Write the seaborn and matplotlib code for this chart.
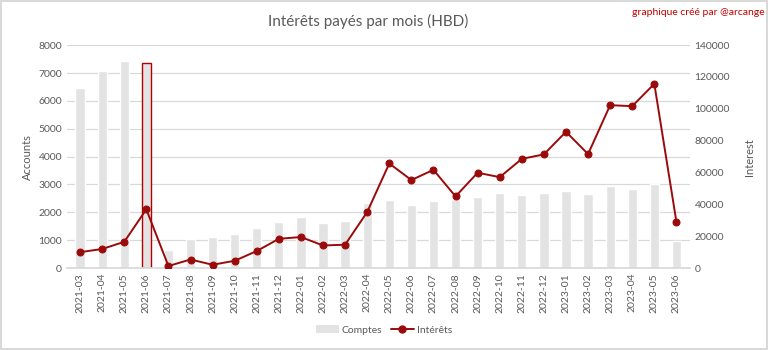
import matplotlib
matplotlib.use("Agg")

import numpy as np
import pandas as pd
import matplotlib.pyplot as plt
import seaborn as sns
from matplotlib.lines import Line2D
from matplotlib.patches import Patch

months = [
    "2021-03", "2021-04", "2021-05", "2021-06", "2021-07", "2021-08", "2021-09",
    "2021-10", "2021-11", "2021-12", "2022-01", "2022-02", "2022-03", "2022-04",
    "2022-05", "2022-06", "2022-07", "2022-08", "2022-09", "2022-10", "2022-11",
    "2022-12", "2023-01", "2023-02", "2023-03", "2023-04", "2023-05", "2023-06",
]
accounts = [
    6460, 7070, 7440, 7360, 650, 1040, 1110, 1220, 1450, 1650, 1840, 1610, 1680, 2340,
    2440, 2250, 2400, 2480, 2560, 2680, 2620, 2680, 2770, 2650, 2940, 2830, 3000, 980,
]
interest = [
    10000, 12000, 16500, 36900, 1300, 5400, 2100, 4600, 10700, 18400, 19500, 14200, 14700, 35200,
    65700, 55300, 61700, 45000, 59900, 57100, 68600, 71400, 85600, 71600, 102300, 101700, 115700, 29100,
]
highlight = "2021-06"

BAR = "#e3e3e3"
RED = "#9b0a0a"
GRAY = "#595959"
GRID = "#d9d9d9"

sns.set_theme(style="white")
plt.rcParams["font.family"] = ["Lato", "DejaVu Sans"]

df = pd.DataFrame({"month": months, "accounts": accounts, "interest": interest})

fig = plt.figure(figsize=(7.68, 3.5), dpi=100)
fig.patch.set_edgecolor("#d9d9d9")
fig.patch.set_linewidth(1.5)
ax = fig.add_axes([0.087, 0.234, 0.811, 0.637])

sns.barplot(data=df, x="month", y="accounts", color=BAR, saturation=1, width=0.42, ax=ax, zorder=2)
for patch, m in zip(ax.patches, months):
    if m == highlight:
        patch.set_edgecolor("#b00000")
        patch.set_linewidth(1.0)

ax2 = ax.twinx()
sns.lineplot(x=np.arange(len(months)), y=df["interest"], color=RED, linewidth=1.4,
             marker="o", markersize=5, markeredgecolor=RED, ax=ax2, zorder=3)

ax.set_ylim(0, 8000)
ax.set_yticks(range(0, 8001, 1000))
ax2.set_ylim(0, 140000)
ax2.set_yticks(range(0, 140001, 20000))
ax.set_xlim(-0.6, len(months) - 0.4)

ax.yaxis.grid(True, color=GRID, linewidth=0.9, zorder=0)
ax.set_axisbelow(True)
for a in (ax, ax2):
    for s in a.spines.values():
        s.set_visible(False)
    a.tick_params(length=0, colors=GRAY, labelsize=7.5)
ax.spines["bottom"].set_visible(True)
ax.spines["bottom"].set_color(GRID)

ax.set_xlabel("")
ax.set_xticks(range(len(months)))
ax.set_xticklabels(months, rotation=90, fontsize=7.5, color=GRAY)
ax.set_ylabel("Accounts", color=GRAY, fontsize=8)
ax2.set_ylabel("Interest", color=GRAY, fontsize=8, labelpad=10)

fig.text(0.48, 0.94, "Intérêts payés par mois (HBD)", ha="center", va="center",
         fontsize=11, color=GRAY)
fig.text(0.995, 0.965, "graphique créé par @arcange", ha="right", va="center",
         fontsize=7.5, color="#c00000")

handles = [
    Patch(facecolor=BAR, edgecolor="none"),
    Line2D([0], [0], color=RED, linewidth=1.4, marker="o", markersize=5),
]
fig.legend(handles, ["Comptes", "Intérêts"], loc="center", bbox_to_anchor=(0.5, 0.057),
           ncol=2, frameon=False, fontsize=7.5, labelcolor=GRAY, handlelength=2.2,
           columnspacing=0.8, handletextpad=0.3)

fig.savefig("out.png", dpi=100)
